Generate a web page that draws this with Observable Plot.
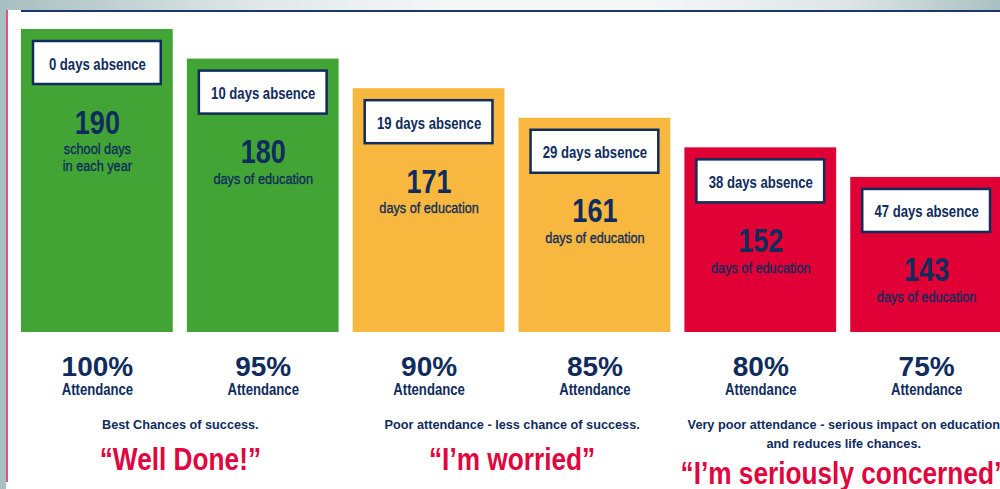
<!DOCTYPE html>
<html>
<head>
<meta charset="utf-8">
<script src="https://cdn.jsdelivr.net/npm/d3@7"></script>
<script src="https://cdn.jsdelivr.net/npm/@observablehq/plot@0.6"></script>
<style>
  html, body { margin: 0; padding: 0; background: #ffffff; overflow: hidden; }
  #wrap { position: relative; width: 1000px; height: 489px; overflow: hidden; }
  .topband { position: absolute; left: 0; top: 0; width: 1000px; height: 10px;
    background: linear-gradient(to right, #a8bec1 0%, #dfe7e8 25%, #f5f7f7 45%, #f5f7f7 65%, #dde5e6 85%, #aac0c2 100%); }
  .leftstrip { position: absolute; left: 0; top: 0; width: 6px; height: 489px; background: #a9c0c2; }
  .pinkline { position: absolute; left: 6px; top: 10px; width: 1.5px; height: 472px; background: #e2547c; }
  .navyline { position: absolute; left: 21px; top: 10px; width: 979px; height: 2px; background: #1b386b; }
  #chart { position: absolute; left: 0; top: 0; }
</style>
</head>
<body>
<div id="wrap">
  <div class="topband"></div>
  <div class="leftstrip"></div>
  <div class="pinkline"></div>
  <div class="navyline"></div>
  <div id="chart"></div>
</div>
<script>
// ---- data ----
const categories = ["100%", "95%", "90%", "85%", "80%", "75%"];
const attendance = [100, 95, 90, 85, 80, 75];
const absenceDays = [0, 10, 19, 29, 38, 47];
const educationDays = [190, 180, 171, 161, 152, 143];
const dayCaptions = ["school days\nin each year", "days of education", "days of education",
                     "days of education", "days of education", "days of education"];
const bands = ["good", "good", "poor", "poor", "verypoor", "verypoor"];

const groupStart = ["100%", "90%", "80%"];
const groupNotes = ["Best Chances of success.",
                    "Poor attendance - less chance of success.",
                    "Very poor attendance - serious impact on education\nand reduces life chances."];
const groupVerdicts = ["\u201CWell Done!\u201D", "\u201CI\u2019m worried\u201D", "\u201CI\u2019m seriously concerned\u201D"];

// ---- tables ----
const rows = categories.map((c, i) => ({
  cat: c, att: attendance[i], absence: absenceDays[i], days: educationDays[i],
  caption: dayCaptions[i], band: bands[i]
}));
const groups = groupStart.map((s, i) => ({
  start: s, note: groupNotes[i], verdict: groupVerdicts[i],
  lines: groupNotes[i].split("\n").length
}));

// ---- style ----
const NAVY = "#0f2c5c";
const RED_TEXT = "#e0063f";
// a narrow face is not installed: Liberation Sans is condensed afterwards with a horizontal scale
const NARROW = "'Liberation Sans Narrow', 'Liberation Sans', Arial, sans-serif";
const SANS = "'Liberation Sans', Arial, sans-serif";
const Y0 = 48.8;                       // y baseline of the bars (scale domain min)
const TOP = 29, BOTTOM = 332;           // plot frame (px)
const px = v => v * (100 - Y0) / (BOTTOM - TOP);  // pixel -> y units
const HALF_STEP = 83;                   // half the band step, to centre group notes

const chart = Plot.plot({
  width: 1000,
  height: 489,
  marginTop: TOP,
  marginBottom: 489 - BOTTOM,
  marginLeft: 21,
  marginRight: 0,
  style: { background: "transparent", overflow: "hidden" },
  x: { domain: categories, range: [21, 1002], paddingInner: 0.085, paddingOuter: 0, round: false, axis: null },
  y: { domain: [Y0, 100], axis: null },
  color: { domain: ["good", "poor", "verypoor"], range: ["#43a436", "#f8b83f", "#e10036"] },
  marks: [
    Plot.barY(rows, { x: "cat", y1: Y0, y2: "att", fill: "band" }),
    Plot.barY(rows, {
      x: "cat", y1: d => d.att - px(12), y2: d => d.att - px(55),
      fill: "white", stroke: NAVY, strokeWidth: 2.5, insetLeft: 12, insetRight: 12
    }),
    Plot.text(rows, {
      x: "cat", y: "att", text: d => `${d.absence} days absence`, dy: 40, lineAnchor: "bottom",
      fontFamily: NARROW, fontWeight: "bold", fontSize: 16, fill: NAVY
    }),
    Plot.text(rows, {
      x: "cat", y: "att", text: d => String(d.days), dy: 104, lineAnchor: "bottom",
      fontFamily: NARROW, fontWeight: "bold", fontSize: 33, fill: NAVY
    }),
    Plot.text(rows, {
      x: "cat", y: "att", text: "caption", dy: 113, lineAnchor: "top", lineHeight: 1.07,
      fontFamily: NARROW, fontWeight: "normal", fontSize: 15.5, fill: NAVY,
      stroke: NAVY, strokeWidth: 0.35
    }),
    Plot.text(rows, {
      x: "cat", frameAnchor: "bottom", text: "cat", dy: 43, lineAnchor: "bottom",
      fontFamily: SANS, fontWeight: "bold", fontSize: 28, fill: NAVY
    }),
    Plot.text(rows, {
      x: "cat", frameAnchor: "bottom", text: () => "Attendance", dy: 62, lineAnchor: "bottom",
      fontFamily: NARROW, fontWeight: "bold", fontSize: 16, fill: NAVY
    }),
    Plot.text(groups, {
      x: "start", frameAnchor: "bottom", text: "note", dx: HALF_STEP, dy: 83, lineAnchor: "top",
      lineHeight: 1.5, fontFamily: SANS, fontWeight: "bold", fontSize: 12.7, fill: NAVY
    }),
    ...[1, 2].map(n => Plot.text(groups, {
      filter: d => d.lines === n,
      x: "start", frameAnchor: "bottom", text: "verdict", dx: HALF_STEP, dy: 137 + (n - 1) * 14,
      lineAnchor: "bottom", fontFamily: NARROW, fontWeight: "bold", fontSize: 32, fill: RED_TEXT
    }))
  ]
});
// condense the "narrow" texts around their own anchor
chart.querySelectorAll('g[font-family*="Narrow"] text').forEach(t => {
  const tr = t.getAttribute("transform") || "";
  t.setAttribute("transform", `${tr} scale(0.82,1)`);
});
document.getElementById("chart").appendChild(chart);
</script>
</body>
</html>
